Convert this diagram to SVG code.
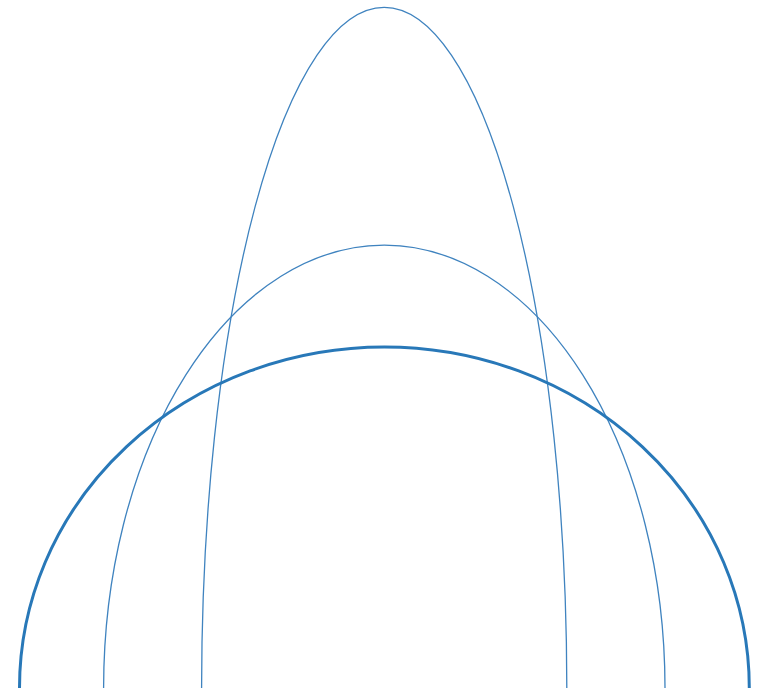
<svg xmlns="http://www.w3.org/2000/svg" width="767" height="693" viewBox="0 0 767 693">
<style>
.arc{fill:none;stroke:#2b7bba;}
.thin{stroke-width:1.3;stroke:#3f83bf;}
.thick{stroke-width:3;stroke:#2878b8;}
</style>
<rect width="767" height="693" fill="#ffffff"/>
<path class="arc thin" d="M201.6 688 A182.6 681 0 0 1 566.8 688"/>
<path class="arc thin" d="M103.6 688 A280.7 443 0 0 1 665 688"/>
<path class="arc thick" d="M19.5 688 A364.9 341 0 0 1 749.3 688"/>
</svg>
